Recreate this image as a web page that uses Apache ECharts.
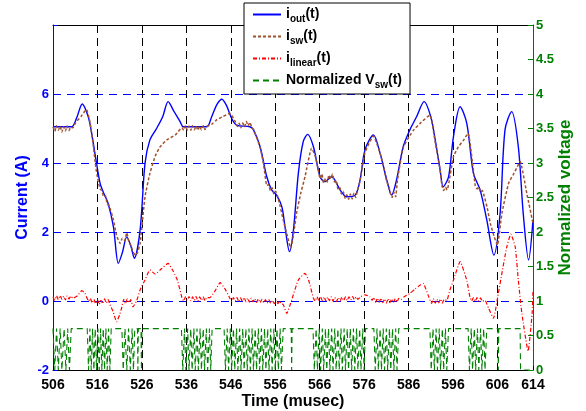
<!DOCTYPE html>
<html><head><meta charset="utf-8">
<script src="https://cdn.jsdelivr.net/npm/echarts@6/dist/echarts.min.js"></script>
<style>html,body{margin:0;padding:0;background:#fff}#c{width:586px;height:411px}</style>
</head><body><div id="c"></div>
<script>
// ---- tick values ----
const xTickValues = [506, 516, 526, 536, 546, 556, 566, 576, 586, 596, 606, 614];
const leftTickValues = [-2, 0, 2, 4, 6];
const rightTickValues = [0, 0.5, 1, 1.5, 2, 2.5, 3, 3.5, 4, 4.5, 5];

// ---- i_out(t) ----
const outT = [506, 508, 510.2, 511.3, 512.6, 513.5, 514.3, 515.8, 516.6, 517.5, 518.4, 519.6, 520.7, 521.6, 522.6, 523.5, 524.3, 525.6, 526.7, 527.8, 529.3, 530.7, 531.9, 533.2, 534.6, 535.3, 538, 540.6, 541.7, 542.9, 544, 545.1, 546.2, 547.3, 550.3, 551.1, 552.6, 554.1, 555.2, 556.3, 557.5, 558.2, 559.2, 560.1, 561.2, 562.3, 563.3, 564.6, 566.1, 567.2, 568.7, 570.6, 572.1, 574, 575.1, 576.2, 578.1, 579.6, 581.1, 582.2, 583.3, 584.8, 586.3, 587.8, 589.5, 591, 592, 593.1, 593.8, 595, 596.1, 597.6, 599.1, 600.6, 602.1, 603.6, 605.2, 606.6, 607.7, 609.2, 610.7, 611.8, 613, 614];
const outV = [5.05, 5.05, 5.05, 5.3, 5.71, 5.5, 5.15, 3.99, 3.41, 3.1, 2.83, 2.15, 1.09, 1.4, 1.86, 1.6, 1.24, 2.06, 3.99, 4.67, 5.0, 5.35, 5.78, 5.5, 5.2, 5.05, 5.05, 5.05, 5.34, 5.7, 5.85, 5.65, 5.29, 5.1, 5.05, 4.96, 4.47, 3.6, 3.22, 3.07, 2.73, 2.15, 1.43, 2.06, 3.7, 4.62, 4.83, 4.47, 3.6, 3.46, 3.6, 3.22, 3.02, 3.07, 3.51, 4.38, 4.81, 4.28, 3.51, 3.07, 3.51, 4.47, 4.96, 5.34, 5.78, 5.34, 4.67, 3.8, 3.31, 3.6, 4.76, 5.63, 5.15, 3.7, 3.22, 2.35, 1.33, 2.54, 4.96, 5.49, 4.47, 2.54, 1.19, 2.35];

// ---- i_sw(t) ----
const swT = [506, 506.4, 506.8, 507.2, 507.6, 508, 508.4, 508.8, 509.2, 509.6, 510, 510.5, 511, 512.3, 513.5, 514.3, 515.1, 515.6, 516.2, 516.6, 517, 517.4, 517.8, 518.2, 518.6, 519.6, 520.3, 521.1, 521.6, 522.1, 522.6, 523.1, 523.5, 524, 524.5, 525, 525.6, 526.7, 527.8, 529, 530.1, 531.6, 533.5, 535, 535.4, 535.8, 536.2, 536.6, 537, 537.4, 537.8, 538.2, 538.6, 539, 539.4, 539.8, 540.2, 540.6, 541.7, 542.8, 544.3, 545.8, 547, 547.5, 547.9, 548.3, 548.7, 549.1, 549.5, 549.9, 550.3, 550.7, 551.2, 552.6, 553.4, 554.1, 554.5, 554.9, 555.3, 555.7, 556.1, 556.5, 557.1, 557.8, 558.7, 559.5, 560.2, 560.8, 561.7, 562.7, 564.2, 565, 565.6, 566.1, 566.5, 566.9, 567.3, 567.7, 568.1, 568.5, 568.9, 569.3, 569.7, 570.1, 570.5, 570.9, 571.3, 571.7, 572.1, 572.5, 572.9, 573.3, 573.7, 574.1, 574.5, 575.1, 576.2, 578.1, 579.6, 580.3, 580.7, 581.1, 581.5, 581.9, 582.3, 582.7, 583.1, 583.5, 584.8, 586.3, 587.1, 588.6, 590.8, 592, 593.1, 593.5, 593.9, 594.3, 594.7, 595.1, 596.1, 597.2, 598.3, 599.4, 600.3, 601, 601.4, 601.8, 602.2, 602.6, 603, 603.7, 604.4, 605.3, 606, 607, 608.5, 609.5, 610.3, 611.1, 612.6, 614];
const swV = [5.05, 4.92, 5.08, 4.95, 5.06, 4.9, 5.05, 4.93, 5.07, 4.94, 5.04, 5.02, 5.15, 5.35, 5.55, 5.2, 4.47, 3.9, 3.45, 3.25, 3.2, 3.02, 3.05, 2.8, 2.78, 2.35, 1.9, 1.67, 1.82, 1.75, 1.98, 1.7, 1.62, 1.42, 1.33, 1.4, 1.67, 3.02, 3.7, 4.2, 4.47, 4.67, 4.81, 5.02, 4.95, 5.08, 4.96, 5.07, 4.95, 5.08, 4.96, 5.07, 4.95, 5.07, 4.96, 5.08, 4.97, 5.06, 5.12, 5.25, 5.35, 5.44, 5.2, 5.06, 5.15, 5.02, 5.16, 5.05, 5.2, 5.08, 5.18, 5.04, 4.95, 4.45, 3.95, 3.35, 3.38, 3.2, 3.28, 3.1, 3.18, 3.05, 2.75, 2.35, 1.9, 1.53, 2.0, 2.54, 3.1, 3.6, 4.43, 4.2, 3.85, 3.55, 3.68, 3.42, 3.55, 3.45, 3.65, 3.55, 3.68, 3.45, 3.5, 3.25, 3.3, 3.1, 3.18, 2.98, 3.08, 2.95, 3.1, 2.96, 3.12, 3.0, 3.2, 3.5, 4.3, 4.78, 4.28, 3.95, 3.7, 3.45, 3.35, 3.12, 3.0, 3.15, 3.02, 3.5, 4.45, 4.8, 4.95, 5.15, 5.39, 4.6, 3.8, 3.35, 3.2, 3.3, 3.22, 3.45, 4.18, 4.47, 4.65, 4.86, 4.1, 3.35, 3.25, 3.3, 3.15, 3.2, 3.05, 2.7, 2.25, 1.85, 1.62, 2.54, 3.41, 3.65, 3.85, 4.04, 3.12, 2.25];

// ---- i_linear(t) ----
const linT = [506, 506.4, 506.8, 507.2, 507.6, 508, 508.4, 508.8, 509.2, 509.6, 510, 510.5, 511.5, 512.5, 513.2, 514, 514.4, 514.8, 515.2, 515.6, 516, 516.4, 516.8, 517.2, 517.6, 518, 518.4, 518.8, 519.5, 520.3, 521, 521.5, 521.9, 522.3, 522.7, 523.1, 523.5, 524, 524.8, 525.6, 526.7, 527.8, 529, 530.1, 531.9, 533.1, 534, 535, 535.4, 535.8, 536.2, 536.6, 537, 537.4, 537.8, 538.2, 538.6, 539, 539.4, 539.8, 540.2, 540.6, 541.3, 542.5, 543.6, 544.7, 545.8, 546.2, 546.6, 547, 547.4, 547.8, 548.2, 548.6, 549, 549.4, 549.8, 550.2, 550.6, 551, 551.4, 551.8, 552.2, 552.6, 553, 553.4, 553.8, 554.2, 554.6, 555, 555.4, 555.8, 556.2, 556.6, 557, 557.4, 557.8, 558.6, 559.7, 561.2, 562.7, 563.5, 564.6, 565, 565.4, 565.8, 566.2, 566.6, 567, 567.4, 567.8, 568.2, 568.6, 569, 569.4, 569.8, 570.2, 570.6, 571, 571.4, 571.8, 572.2, 572.6, 573, 573.4, 573.8, 574.2, 574.6, 575.2, 576.2, 577.3, 577.8, 578.2, 578.6, 579, 579.4, 579.8, 580.2, 580.6, 581, 581.4, 581.8, 582.2, 582.6, 583, 583.4, 583.8, 584.3, 585, 586.3, 587.5, 588.6, 589.3, 590.4, 591.2, 591.6, 592, 592.4, 592.8, 593.2, 593.6, 594, 594.6, 595.3, 596.1, 597.6, 599.1, 599.8, 600.2, 600.6, 601, 601.4, 601.8, 602.2, 602.6, 603.2, 604, 605.1, 606.2, 607, 608.1, 609, 610, 610.7, 611.5, 612.9, 613.8, 614];
const linV = [0.12, 0.02, 0.15, 0.04, 0.16, 0.05, 0.14, 0.03, 0.15, 0.06, 0.14, 0.08, 0.15, 0.3, 0.22, 0.0, 0.08, -0.06, 0.05, -0.08, 0.04, -0.1, 0.02, -0.08, 0.06, -0.06, 0.04, -0.1, -0.3, -0.6, -0.4, -0.17, 0.05, -0.08, 0.06, -0.05, 0.04, -0.17, 0.0, 0.32, 0.61, 0.9, 0.78, 0.9, 1.09, 0.85, 0.6, 0.1, 0.0, 0.12, 0.02, 0.13, 0.01, 0.12, 0.02, 0.13, 0.0, 0.12, 0.02, 0.12, 0.01, 0.1, 0.1, 0.3, 0.53, 0.35, 0.08, -0.02, 0.1, 0.0, 0.1, -0.02, 0.09, 0.0, 0.1, -0.02, 0.08, -0.03, 0.08, -0.02, 0.07, -0.04, 0.06, -0.05, 0.05, -0.05, 0.04, -0.06, 0.03, -0.07, 0.02, -0.08, 0.02, -0.08, 0.0, -0.08, -0.1, -0.36, 0.03, 0.61, 0.8, 0.61, 0.08, 0.0, 0.12, 0.02, 0.13, 0.01, 0.12, 0.0, 0.11, 0.01, 0.12, 0.0, 0.1, -0.01, 0.1, 0.0, 0.11, 0.01, 0.12, 0.02, 0.12, 0.03, 0.13, 0.04, 0.12, 0.05, 0.12, 0.18, 0.12, 0.02, 0.1, -0.03, 0.08, -0.04, 0.08, -0.05, 0.06, -0.06, 0.07, -0.05, 0.06, -0.04, 0.07, -0.03, 0.08, 0.04, 0.12, 0.22, 0.35, 0.46, 0.51, 0.17, -0.07, 0.06, -0.06, 0.05, -0.05, 0.06, -0.06, 0.05, 0.02, 0.32, 0.6, 1.14, 0.6, 0.12, 0.0, 0.1, -0.01, 0.1, 0.0, 0.09, -0.01, 0.02, -0.21, -0.5, 0.22, 0.8, 1.57, 1.94, 1.57, 0.6, -0.36, -1.45, -0.36, 0.3];

// ---- Normalized V_sw(t): switching bursts (toggle instants, each burst starts and ends at the high level) ----
const vswHigh = 0.6;
const vswLow = 0;
const vswBursts = [
  [506.0, 506.4, 506.8, 507.2, 507.6, 508.0, 508.5, 508.9, 509.3, 509.7, 510.1],
  [513.7, 514.0, 514.3, 514.6, 514.9, 515.2, 515.5, 515.8, 516.1, 516.4, 516.7, 517.0, 517.3, 517.6, 517.9, 518.2, 518.5, 518.8, 519.1],
  [521.5, 521.8, 522.2, 522.6, 523.0, 523.4, 523.8, 524.1, 524.4],
  [525.0, 525.1, 525.2],
  [525.8, 525.9, 526.0],
  [534.9, 535.2, 535.6, 535.9, 536.3, 536.6, 537.0, 537.3, 537.7, 538.0, 538.4, 538.7, 539.1, 539.4, 539.8, 540.1, 540.5, 540.8, 541.2, 541.5, 541.8],
  [544.5, 544.8, 545.2, 545.5, 545.9, 546.2, 546.6, 546.9, 547.3, 547.6, 548.0, 548.3, 548.7, 549.0, 549.4, 549.7, 550.1, 550.4, 550.8, 551.1, 551.5, 551.8, 552.2, 552.5, 552.9, 553.2, 553.6, 553.9, 554.3, 554.6, 555.0, 555.3, 555.7, 556.0, 556.4, 556.7, 557.1, 557.4, 557.8],
  [559.6, 559.7, 559.8],
  [564.5, 564.8, 565.2, 565.5, 565.9, 566.2, 566.6, 566.9, 567.3, 567.6, 568.0, 568.3, 568.7, 569.0, 569.4, 569.7, 570.1, 570.4, 570.8, 571.1, 571.5, 571.8, 572.2, 572.5, 572.9, 573.2, 573.6, 573.9, 574.3, 574.6, 575.0, 575.3, 575.7, 576.0, 576.3],
  [578.2, 578.5, 578.9, 579.2, 579.6, 579.9, 580.3, 580.6, 581.0, 581.3, 581.7, 582.0, 582.4, 582.7, 583.1, 583.4, 583.8],
  [590.8, 591.1, 591.5, 591.8, 592.2, 592.5, 592.9, 593.2, 593.6, 593.9, 594.3, 594.6, 595.0],
  [599.4, 599.7, 600.1, 600.4, 600.8, 601.1, 601.5, 601.8, 602.2, 602.5, 602.9, 603.2, 603.6],
  [606.1, 606.2, 606.3]
];
const vswFinalDrop = [611.1, 611.2]; // high until first, low from second to end
const xMin = 506, xMax = 614;

function zip(t, v) { return t.map((x, i) => [x, v[i]]); }
const vswData = [];
vswBursts.forEach(b => b.forEach((t, i) => vswData.push([t, i % 2 === 0 ? vswHigh : vswLow])));
vswData.push([vswFinalDrop[0], vswHigh], [vswFinalDrop[1], vswLow], [xMax, vswLow]);

const FONT = 'Liberation Sans';
const legendNames = {
  iout: '{m|i}{s|out}{m|(t)}',
  isw: '{m|i}{s|sw}{m|(t)}',
  ilinear: '{m|i}{s|linear}{m|(t)}',
  vsw: '{m|Normalized V}{s|sw}{m|(t)}'
};

const chart = echarts.init(document.getElementById('c'), null, { renderer: 'canvas' });
chart.setOption({
  animation: false,
  backgroundColor: '#fff',
  grid: { left: 53, right: 53, top: 25, bottom: 41, containLabel: false, outerBoundsMode: 'none' },
  legend: {
    data: ['iout', 'isw', 'ilinear', 'vsw'],
    orient: 'vertical',
    left: 244, top: 3,
    padding: [4, 8, 4, 8],
    itemWidth: 28, itemHeight: 14, itemGap: 5,
    backgroundColor: '#fff', borderColor: '#000', borderWidth: 1,
    itemStyle: { opacity: 0 },
    formatter: n => legendNames[n],
    textStyle: {
      rich: {
        m: { fontFamily: FONT, fontSize: 14, fontWeight: 'bold', color: '#000', lineHeight: 15, verticalAlign: 'top' },
        s: { fontFamily: FONT, fontSize: 10, fontWeight: 'bold', color: '#000', lineHeight: 11, padding: [7, 0, 0, 0], verticalAlign: 'top' }
      }
    }
  },
  xAxis: [{
    type: 'value', min: xMin, max: xMax, interval: 10, position: 'bottom',
    name: 'Time (musec)', nameLocation: 'middle', nameGap: 24, nameMoveOverlap: false,
    nameTextStyle: { fontFamily: FONT, fontSize: 16, fontWeight: 'bold', color: '#000' },
    axisLine: { onZero: false, lineStyle: { color: '#000', width: 1 } },
    axisTick: { inside: true, length: 4, lineStyle: { color: '#000' } },
    axisLabel: { fontFamily: FONT, fontSize: 14, fontWeight: 'bold', color: '#000', margin: 8,
      formatter: v => xTickValues.indexOf(Math.round(v)) >= 0 ? String(Math.round(v)) : '' },
    splitLine: { show: true, showMinLine: false, showMaxLine: false, lineStyle: { color: '#000', type: [8, 5], width: 1 } }
  }, {
    type: 'value', min: xMin, max: xMax, position: 'top',
    axisLine: { onZero: false, lineStyle: { color: '#000', width: 1 } },
    axisTick: { show: false }, axisLabel: { show: false }, splitLine: { show: false }
  }],
  yAxis: [{
    type: 'value', min: -2, max: 8, interval: 2, position: 'left',
    name: 'Current (A)', nameLocation: 'middle', nameGap: 22, nameMoveOverlap: false,
    nameTextStyle: { fontFamily: FONT, fontSize: 16, fontWeight: 'bold', color: '#0000ff' },
    axisLine: { show: true, onZero: false, lineStyle: { color: '#0000ff', width: 1 } },
    axisTick: { show: true, inside: true, length: 4, lineStyle: { color: '#0000ff' } },
    axisLabel: { fontFamily: FONT, fontSize: 13, fontWeight: 'bold', color: '#0000ff', margin: 4,
      formatter: v => leftTickValues.indexOf(v) >= 0 ? String(v) : '' },
    splitLine: { show: true, showMinLine: false, showMaxLine: false, lineStyle: { color: '#0000ff', type: [8, 6], width: 1 } }
  }, {
    type: 'value', min: 0, max: 5, interval: 0.5, position: 'right',
    name: 'Normalized voltage', nameLocation: 'middle', nameGap: 24, nameMoveOverlap: false,
    nameTextStyle: { fontFamily: FONT, fontSize: 17, fontWeight: 'bold', color: '#008000' },
    axisLine: { show: true, onZero: false, lineStyle: { color: '#1b4f72', width: 1 } },
    axisTick: { show: true, inside: true, length: 5, lineStyle: { color: '#008000' } },
    axisLabel: { fontFamily: FONT, fontSize: 13, fontWeight: 'bold', color: '#008000', margin: 3,
      formatter: v => rightTickValues.indexOf(v) >= 0 ? String(v) : '' },
    splitLine: { show: false }
  }],
  series: [
    { name: 'iout', type: 'line', xAxisIndex: 0, yAxisIndex: 0, data: zip(outT, outV), symbol: 'none', smooth: 0.3,
      lineStyle: { color: '#0000ff', width: 1.4 }, itemStyle: { color: '#0000ff' }, z: 2 },
    { name: 'isw', type: 'line', xAxisIndex: 0, yAxisIndex: 0, data: zip(swT, swV), symbol: 'none', smooth: 0.15,
      lineStyle: { color: '#a0522d', width: 1.5, type: [3, 2] }, itemStyle: { color: '#a0522d' }, z: 3 },
    { name: 'ilinear', type: 'line', xAxisIndex: 0, yAxisIndex: 0, data: zip(linT, linV), symbol: 'none', smooth: 0.15,
      lineStyle: { color: '#ff0000', width: 1.2, type: [4, 2, 1, 2] }, itemStyle: { color: '#ff0000' }, z: 4 },
    { name: 'vsw', type: 'line', xAxisIndex: 0, yAxisIndex: 1, data: vswData, symbol: 'none',
      lineStyle: { color: '#008000', width: 1.1, type: [6, 4] }, itemStyle: { color: '#008000' }, z: 1 }
  ]
});
</script>
</body></html>
